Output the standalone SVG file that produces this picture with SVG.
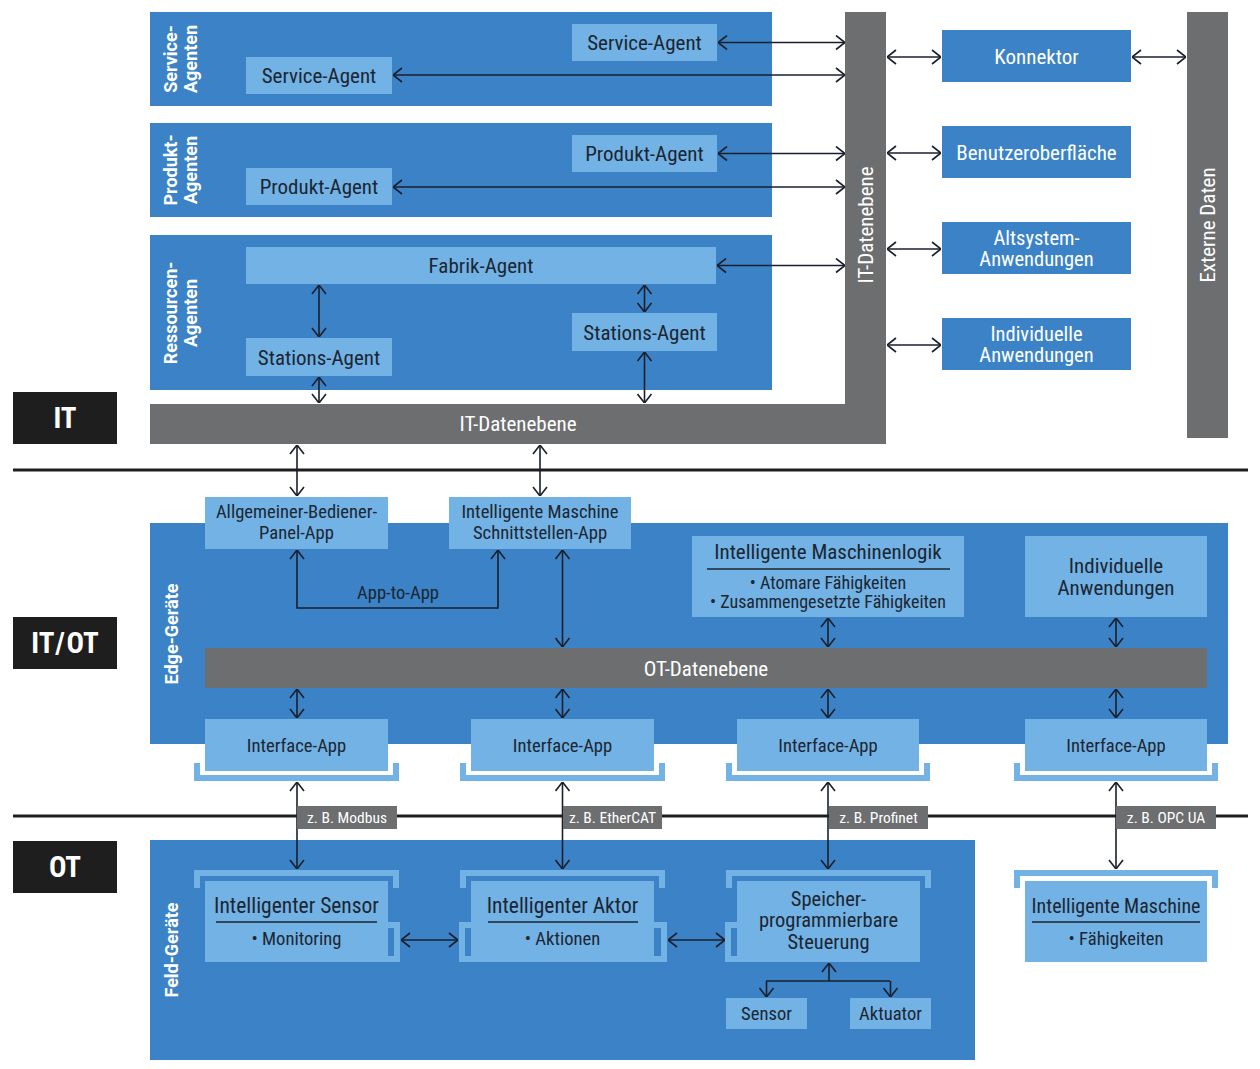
<svg xmlns="http://www.w3.org/2000/svg" width="1260" height="1069" viewBox="0 0 1260 1069">
<defs>
<style>
.panel{fill:#3b83c6}
.lb{fill:#72b2e4}
.bar{fill:#6d6e70}
.blk{fill:#1e1e1e}
.t{font-family:"Roboto Condensed",Roboto,"Liberation Sans",sans-serif;font-stretch:condensed;fill:#1c2633;font-size:21px;text-anchor:middle}
.s{font-size:18.6px}
.b{font-size:18px}
.m{font-size:20.5px}
.w{fill:#ffffff}
.pl{font-family:Roboto,"Liberation Sans",sans-serif;font-weight:bold;fill:#ffffff;font-size:18px;text-anchor:middle}
.big{font-family:"Roboto Condensed",Roboto,"Liberation Sans",sans-serif;font-stretch:condensed;font-weight:bold;fill:#ffffff;font-size:29px;text-anchor:middle}
.tag{font-size:15.5px;fill:#ffffff}
.c{stroke:#1a1f2b;stroke-width:1.6;fill:none;marker-start:url(#ah);marker-end:url(#ah)}
.c1{stroke:#1a1f2b;stroke-width:1.6;fill:none;marker-end:url(#ah)}
.ln{stroke:#1a1f2b;stroke-width:1.6;fill:none}
.ul{stroke:#1c2633;stroke-width:1.6}
.brk{stroke:#72b2e4;stroke-width:6;fill:none;stroke-linejoin:miter}
.sep{stroke:#1e1e1e;stroke-width:3}
</style>
<marker id="ah" viewBox="0 0 10 16" refX="10" refY="8" markerWidth="10" markerHeight="16" markerUnits="userSpaceOnUse" orient="auto-start-reverse">
<path d="M1,1 L10,8 L1,15" fill="none" stroke="#1a1f2b" stroke-width="1.6"/>
</marker>
</defs>
<rect width="1260" height="1069" fill="#ffffff"/>

<!-- separators -->
<g id="separators">
<line class="sep" x1="13" y1="470" x2="1248" y2="470"/>
<line class="sep" x1="13" y1="816" x2="1248" y2="816"/>
</g>

<!-- level labels -->
<g id="label-it"><rect class="blk" x="13" y="392" width="104" height="52"/><text class="big" x="65" y="428">IT</text></g>
<g id="label-itot"><rect class="blk" x="13" y="617" width="104" height="52"/><text class="big" x="65" y="653" style="word-spacing:-5px">IT / OT</text></g>
<g id="label-ot"><rect class="blk" x="13" y="841" width="104" height="52"/><text class="big" x="65" y="877">OT</text></g>

<!-- IT panels -->
<g id="service-agenten">
<rect class="panel" x="150" y="12" width="622" height="94"/>
<g transform="translate(180,59) rotate(-90)"><text class="pl" x="0" y="-3">Service-</text><text class="pl" x="0" y="17">Agenten</text></g>
</g>
<g id="service-agent-1"><rect class="lb" x="572" y="24" width="145" height="37"/><text class="t" x="644.5" y="50">Service-Agent</text></g>
<g id="service-agent-2"><rect class="lb" x="246" y="57" width="146" height="37"/><text class="t" x="319" y="83">Service-Agent</text></g>

<g id="produkt-agenten">
<rect class="panel" x="150" y="123" width="622" height="94"/>
<g transform="translate(180,170) rotate(-90)"><text class="pl" x="0" y="-3">Produkt-</text><text class="pl" x="0" y="17">Agenten</text></g>
</g>
<g id="produkt-agent-1"><rect class="lb" x="572" y="135" width="145" height="37"/><text class="t" x="644.5" y="161">Produkt-Agent</text></g>
<g id="produkt-agent-2"><rect class="lb" x="246" y="168" width="146" height="37"/><text class="t" x="319" y="194">Produkt-Agent</text></g>

<g id="ressourcen-agenten">
<rect class="panel" x="150" y="235" width="622" height="155"/>
<g transform="translate(180,313) rotate(-90)"><text class="pl" x="0" y="-3">Ressourcen-</text><text class="pl" x="0" y="17">Agenten</text></g>
</g>
<g id="fabrik-agent"><rect class="lb" x="246" y="247" width="470" height="37"/><text class="t" x="481" y="273">Fabrik-Agent</text></g>
<g id="stations-agent-1"><rect class="lb" x="246" y="338" width="146" height="38"/><text class="t" x="319" y="364.5">Stations-Agent</text></g>
<g id="stations-agent-2"><rect class="lb" x="572" y="313" width="145" height="38"/><text class="t" x="644.5" y="339.5">Stations-Agent</text></g>

<g id="it-datenebene">
<rect class="bar" x="150" y="404" width="736" height="40"/>
<rect class="bar" x="845" y="12" width="41" height="432"/>
<text class="t w" x="518" y="431">IT-Datenebene</text>
<g transform="translate(866,225) rotate(-90)"><text class="t w" x="0" y="7">IT-Datenebene</text></g>
</g>

<g id="konnektor"><rect class="panel" x="942" y="30" width="189" height="52"/><text class="t w" x="1036.5" y="63.5">Konnektor</text></g>
<g id="benutzeroberflaeche"><rect class="panel" x="942" y="126" width="189" height="52"/><text class="t w" x="1036.5" y="159.5">Benutzeroberfläche</text></g>
<g id="altsystem"><rect class="panel" x="942" y="222" width="189" height="52"/><text class="t m w" x="1036.5" y="244.5">Altsystem-</text><text class="t m w" x="1036.5" y="266">Anwendungen</text></g>
<g id="individuelle-it"><rect class="panel" x="942" y="318" width="189" height="52"/><text class="t m w" x="1036.5" y="340.5">Individuelle</text><text class="t m w" x="1036.5" y="362">Anwendungen</text></g>

<g id="externe-daten">
<rect class="bar" x="1187" y="12" width="41" height="426"/>
<g transform="translate(1208,225) rotate(-90)"><text class="t w" x="0" y="7">Externe Daten</text></g>
</g>

<!-- Edge -->
<g id="edge-geraete">
<rect class="panel" x="150" y="523" width="1078" height="221"/>
<g transform="translate(180,634) rotate(-90)"><text class="pl" x="0" y="-2">Edge-Geräte</text></g>
</g>
<g id="bediener-panel-app"><rect class="lb" x="205" y="497" width="183" height="52"/><text class="t s" x="296.5" y="518">Allgemeiner-Bediener-</text><text class="t s" x="296.5" y="539">Panel-App</text></g>
<g id="schnittstellen-app"><rect class="lb" x="449" y="497" width="182" height="52"/><text class="t s" x="540" y="518">Intelligente Maschine</text><text class="t s" x="540" y="539">Schnittstellen-App</text></g>
<g id="maschinenlogik"><rect class="lb" x="692" y="536" width="272" height="81"/><text class="t" x="828" y="559">Intelligente Maschinenlogik</text><line class="ul" x1="707" y1="569" x2="950" y2="569"/><text class="t b" x="828" y="588.5">• Atomare Fähigkeiten</text><text class="t b" x="828" y="608">• Zusammengesetzte Fähigkeiten</text></g>
<g id="individuelle-edge"><rect class="lb" x="1025" y="536" width="182" height="81"/><text class="t" x="1116" y="573">Individuelle</text><text class="t" x="1116" y="595">Anwendungen</text></g>
<g id="ot-datenebene"><rect class="bar" x="205" y="648" width="1002" height="40"/><text class="t w" x="706" y="675.5">OT-Datenebene</text></g>

<g id="interface-app-1"><rect class="lb" x="205" y="719" width="183" height="52"/><path class="brk" d="M197,763 V778 H396 V763"/><text class="t s" x="296.5" y="751.5">Interface-App</text></g>
<g id="interface-app-2"><rect class="lb" x="471" y="719" width="183" height="52"/><path class="brk" d="M463,763 V778 H662 V763"/><text class="t s" x="562.5" y="751.5">Interface-App</text></g>
<g id="interface-app-3"><rect class="lb" x="737" y="719" width="182" height="52"/><path class="brk" d="M729,763 V778 H927 V763"/><text class="t s" x="828" y="751.5">Interface-App</text></g>
<g id="interface-app-4"><rect class="lb" x="1025" y="719" width="182" height="52"/><path class="brk" d="M1017,763 V778 H1215 V763"/><text class="t s" x="1116" y="751.5">Interface-App</text></g>

<!-- Field -->
<g id="feld-geraete">
<rect class="panel" x="150" y="840" width="825" height="220"/>
<g transform="translate(180,950) rotate(-90)"><text class="pl" x="0" y="-2">Feld-Geräte</text></g>
</g>
<g id="intelligenter-sensor"><path class="brk" d="M197,888 V873 H396 V888"/><rect class="lb" x="205" y="881" width="183" height="81"/><path class="brk" d="M388,925 H397 V959 H388"/><text class="t" x="296.5" y="913" style="font-size:21.5px">Intelligenter Sensor</text><line class="ul" x1="216" y1="922" x2="377" y2="922"/><text class="t s" x="296.5" y="944.5">• Monitoring</text></g>
<g id="intelligenter-aktor"><path class="brk" d="M463,888 V873 H662 V888"/><rect class="lb" x="471" y="881" width="183" height="81"/><path class="brk" d="M471,925 H462 V959 H471"/><path class="brk" d="M654,925 H664 V959 H654"/><text class="t" x="562.5" y="913" style="font-size:21.5px">Intelligenter Aktor</text><line class="ul" x1="488" y1="922" x2="638" y2="922"/><text class="t s" x="562.5" y="944.5">• Aktionen</text></g>
<g id="sps"><path class="brk" d="M729,888 V873 H928 V888"/><rect class="lb" x="737" y="881" width="183" height="81"/><path class="brk" d="M737,925 H728 V959 H737"/><text class="t m" x="828.5" y="905.5">Speicher-</text><text class="t m" x="828.5" y="927">programmierbare</text><text class="t m" x="828.5" y="948.5">Steuerung</text></g>
<g id="sensor"><rect class="lb" x="726" y="998" width="81" height="31"/><text class="t s" x="766.5" y="1020">Sensor</text></g>
<g id="aktuator"><rect class="lb" x="850" y="998" width="81" height="31"/><text class="t s" x="890.5" y="1020">Aktuator</text></g>
<g id="intelligente-maschine"><path class="brk" d="M1017,888 V873 H1215 V888"/><rect class="lb" x="1025" y="881" width="182" height="81"/><text class="t" x="1116" y="913" style="font-size:20px">Intelligente Maschine</text><line class="ul" x1="1032" y1="922" x2="1200" y2="922"/><text class="t s" x="1116" y="944.5">• Fähigkeiten</text></g>

<!-- connectors -->
<g id="connectors">
<line class="c" x1="718" y1="42.5" x2="845" y2="42.5"/>
<line class="c" x1="393" y1="75" x2="845" y2="75"/>
<line class="c" x1="718" y1="153.5" x2="845" y2="153.5"/>
<line class="c" x1="393" y1="187" x2="845" y2="187"/>
<line class="c" x1="717" y1="265.5" x2="845" y2="265.5"/>
<line class="c" x1="319" y1="285" x2="319" y2="337"/>
<line class="c" x1="319" y1="377" x2="319" y2="403"/>
<line class="c" x1="644.5" y1="285" x2="644.5" y2="312"/>
<line class="c" x1="644.5" y1="352" x2="644.5" y2="403"/>
<line class="c" x1="887" y1="57" x2="941" y2="57"/>
<line class="c" x1="887" y1="153" x2="941" y2="153"/>
<line class="c" x1="887" y1="249" x2="941" y2="249"/>
<line class="c" x1="887" y1="345" x2="941" y2="345"/>
<line class="c" x1="1132" y1="57" x2="1186" y2="57"/>
<line class="c" x1="297" y1="445" x2="297" y2="496"/>
<line class="c" x1="540" y1="445" x2="540" y2="496"/>
<path class="c" d="M297,550 V608 H498 V550"/>
<text class="t s" x="398" y="599">App-to-App</text>
<line class="c" x1="562.5" y1="550" x2="562.5" y2="647"/>
<line class="c" x1="828" y1="618" x2="828" y2="647"/>
<line class="c" x1="1116" y1="618" x2="1116" y2="647"/>
<line class="c" x1="297" y1="689" x2="297" y2="718"/>
<line class="c" x1="562.5" y1="689" x2="562.5" y2="718"/>
<line class="c" x1="828" y1="689" x2="828" y2="718"/>
<line class="c" x1="1116" y1="689" x2="1116" y2="718"/>
<line class="c" x1="297" y1="782" x2="297" y2="869"/>
<line class="c" x1="562.5" y1="782" x2="562.5" y2="869"/>
<line class="c" x1="828" y1="782" x2="828" y2="869"/>
<line class="c" x1="1116" y1="782" x2="1116" y2="869"/>
<line class="c" x1="401" y1="940" x2="458" y2="940"/>
<line class="c" x1="668" y1="940" x2="725" y2="940"/>
<line class="c1" x1="829" y1="981" x2="829" y2="963"/>
<line class="ln" x1="766" y1="981" x2="890" y2="981"/>
<line class="c1" x1="766.5" y1="981" x2="766.5" y2="997"/>
<line class="c1" x1="890.5" y1="981" x2="890.5" y2="997"/>
</g>

<!-- protocol tags -->
<g id="tag-modbus"><rect class="bar" x="297" y="806" width="100" height="23"/><text class="t tag" x="347" y="822.5">z. B. Modbus</text></g>
<g id="tag-ethercat"><rect class="bar" x="563" y="806" width="99" height="23"/><text class="t tag" x="612.5" y="822.5">z. B. EtherCAT</text></g>
<g id="tag-profinet"><rect class="bar" x="829" y="806" width="99" height="23"/><text class="t tag" x="878.5" y="822.5">z. B. Profinet</text></g>
<g id="tag-opcua"><rect class="bar" x="1116" y="806" width="100" height="23"/><text class="t tag" x="1166" y="822.5">z. B. OPC UA</text></g>
</svg>
